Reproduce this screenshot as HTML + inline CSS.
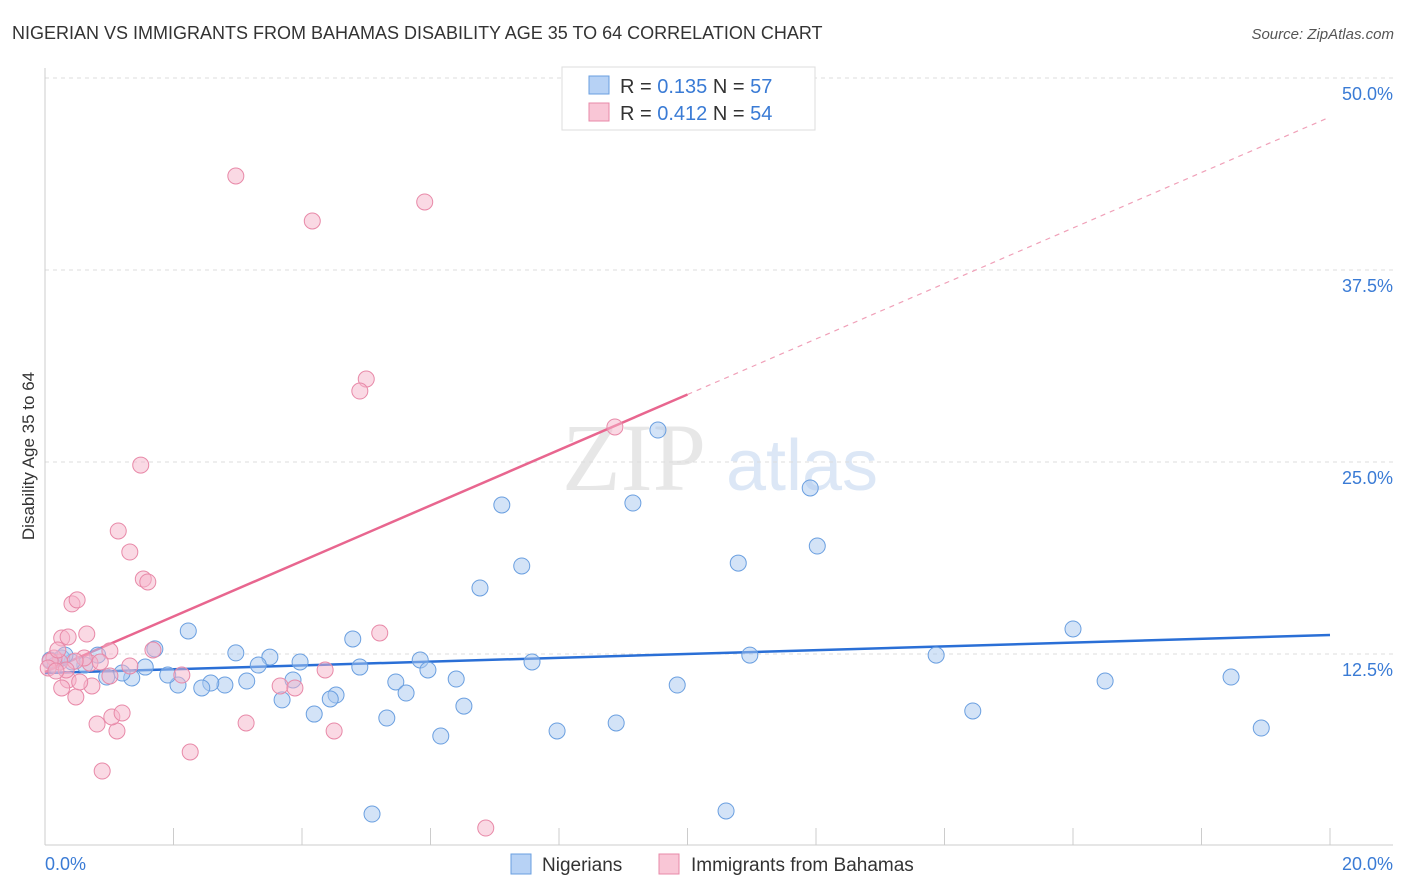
<!DOCTYPE html>
<html><head><meta charset="utf-8"><style>
body{margin:0;background:#fff;font-family:"Liberation Sans",sans-serif;}
#wrap{position:relative;width:1406px;height:892px;overflow:hidden;}
</style></head><body>
<div id="wrap">
<svg id="chart" width="1406" height="892" font-family="Liberation Sans, sans-serif">
<text x="12" y="39" font-size="18" fill="#333">NIGERIAN VS IMMIGRANTS FROM BAHAMAS DISABILITY AGE 35 TO 64 CORRELATION CHART</text>
<text x="1394" y="39" font-size="15" fill="#555" font-style="italic" text-anchor="end">Source: ZipAtlas.com</text>
<text x="34" y="456" font-size="17" fill="#333" text-anchor="middle" transform="rotate(-90 34 456)">Disability Age 35 to 64</text>
<g opacity="0.35">
<text x="634" y="490" font-size="96" font-family="Liberation Serif, serif" fill="#bbb" text-anchor="middle">ZIP</text>
<text x="802" y="490" font-size="72" fill="#9cbde6" text-anchor="middle">atlas</text>
</g>
<g id="grid"></g><g id="axes"></g><g id="lines"></g><g id="points"></g>
<g>
<rect x="562" y="67" width="253" height="63" fill="#fff" stroke="#ddd"/>
<rect x="589" y="76" width="20" height="18" fill="#b7d2f5" stroke="#6a9fe0"/>
<rect x="589" y="103" width="20" height="18" fill="#f9c6d6" stroke="#e889a8"/>
<text x="620" y="93" font-size="20" fill="#333">R = <tspan fill="#3a7bd5">0.135</tspan>   N = <tspan fill="#3a7bd5">57</tspan></text>
<text x="620" y="120" font-size="20" fill="#333">R = <tspan fill="#3a7bd5">0.412</tspan>   N = <tspan fill="#3a7bd5">54</tspan></text>
</g>
<g>
<rect x="511" y="854" width="20" height="20" fill="#b7d2f5" stroke="#6a9fe0"/>
<text x="542" y="871" font-size="19" fill="#333">Nigerians</text>
<rect x="659" y="854" width="20" height="20" fill="#f9c6d6" stroke="#e889a8"/>
<text x="691" y="871" font-size="19" fill="#333">Immigrants from Bahamas</text>
</g>
</svg>
</div>
<script>
const yTicks=[12.5,25,37.5,50];
const yTickLabels=["12.5%","25.0%","37.5%","50.0%"];
const xTicks=[0,2,4,6,8,10,12,14,16,18,20];
const xEndLabels=["0.0%","20.0%"];
const blueX=[2.23,2.97,3.50,3.97,4.79,4.90,5.84,5.96,6.40,5.46,5.62,5.32,6.16,6.52,6.77,7.11,7.42,7.58,7.97,8.89,9.15,9.54,9.84,10.60,10.79,10.97,11.91,12.02,13.87,14.44,16.00,16.50,18.46,18.93,5.09,4.53,4.44,4.19,3.86,3.69,3.32,3.14,2.80,2.58,2.44,2.07,1.91,1.71,1.56,1.35,1.20,0.96,0.82,0.62,0.42,0.26,0.16,0.08,0.31];
const blueY=[14.0,12.57,12.30,11.98,13.48,11.65,12.11,11.46,10.87,10.68,9.96,8.33,7.16,9.11,16.80,22.20,18.23,11.98,7.49,8.01,22.33,27.08,10.48,2.28,18.42,12.43,23.31,19.53,12.43,8.79,14.13,10.74,11.0,7.68,2.08,9.83,9.57,8.59,10.81,9.51,11.78,10.74,10.48,10.61,10.29,10.48,11.13,12.83,11.65,10.94,11.26,11.0,12.43,11.78,11.98,12.24,11.78,12.11,12.43];
const pinkX=[2.97,4.16,5.91,5.00,4.90,8.87,1.49,1.14,1.32,1.53,1.60,0.42,0.50,5.21,0.65,0.26,0.36,1.68,1.01,2.13,1.32,0.70,0.61,0.47,0.23,0.14,0.08,0.05,0.36,0.26,0.48,0.73,0.54,3.66,3.89,4.36,3.13,4.50,2.26,0.89,0.81,1.12,1.04,1.20,6.86,0.86,0.33,0.17,1.01,0.20];
const pinkY=[43.62,40.69,41.93,30.40,29.62,27.28,24.80,20.51,19.14,17.38,17.19,15.76,16.02,13.87,13.80,13.54,13.61,12.76,12.70,11.13,11.72,11.91,12.24,12.04,11.98,12.24,12.04,11.59,10.81,10.29,9.70,10.42,10.68,10.42,10.29,11.46,8.01,7.49,6.12,4.88,7.94,7.49,8.40,8.66,1.17,11.98,11.46,11.39,11.07,12.76];
const blueTrend=[11.26,13.74];
const pinkTrend=[11.33,47.46];
const pinkSolidEnd=10;

const X=v=>45+v*64.25;
const Y=v=>654-(v-12.5)*15.36;
const NS='http://www.w3.org/2000/svg';
function mk(tag,attrs,parent){const e=document.createElementNS(NS,tag);for(const k in attrs)e.setAttribute(k,attrs[k]);document.getElementById(parent).appendChild(e);return e;}

yTicks.forEach((t,i)=>{
  const g=mk('line',{x1:45,x2:1393,y1:Y(t),y2:Y(t),stroke:'#ddd','stroke-dasharray':'4 4'},'grid');
  
  
  const l=mk('text',{x:1393,y:Y(t)+22,'font-size':18,fill:'#3a7bd5','text-anchor':'end'},'axes');
  l.textContent=yTickLabels[i];
  
  
});
const ax=mk('line',{x1:45,x2:45,y1:68,y2:845,stroke:'#ccc'},'axes');


const bx=mk('line',{x1:45,x2:1393,y1:845,y2:845,stroke:'#ccc'},'axes');


xTicks.forEach(t=>{
  if(t===0)return;
  const k=mk('line',{x1:X(t),x2:X(t),y1:828,y2:845,stroke:'#ccc'},'axes');
  
  
});
const xl0=mk('text',{x:45,y:870,'font-size':18,fill:'#3a7bd5'},'axes');
xl0.textContent=xEndLabels[0];


const xl1=mk('text',{x:1393,y:870,'font-size':18,fill:'#3a7bd5','text-anchor':'end'},'axes');
xl1.textContent=xEndLabels[1];



function drawPts(xs,ys,fill,stroke,name){
  xs.forEach((x,i)=>{
    const c=mk('circle',{cx:X(x),cy:Y(ys[i]),r:8,fill:fill,'fill-opacity':0.5,stroke:stroke,'stroke-width':1},'points');
    
    
  });
}
drawPts(blueX,blueY,'#a8c8f0','#6a9fe0','nigerian-point');
drawPts(pinkX,pinkY,'#f6b3c9','#e889a8','bahamas-point');

const bl=mk('line',{x1:X(0),y1:Y(blueTrend[0]),x2:X(20),y2:Y(blueTrend[1]),stroke:'#2a6fd6','stroke-width':2.5},'lines');


const pAt=x=>pinkTrend[0]+(pinkTrend[1]-pinkTrend[0])*x/20;
const pl=mk('line',{x1:X(0),y1:Y(pAt(0)),x2:X(pinkSolidEnd),y2:Y(pAt(pinkSolidEnd)),stroke:'#e8668f','stroke-width':2.5},'lines');


const pd=mk('line',{x1:X(pinkSolidEnd),y1:Y(pAt(pinkSolidEnd)),x2:X(20),y2:Y(pAt(20)),stroke:'#f0a0b8','stroke-width':1.2,'stroke-dasharray':'5 5'},'lines');


</script>
</body></html>
